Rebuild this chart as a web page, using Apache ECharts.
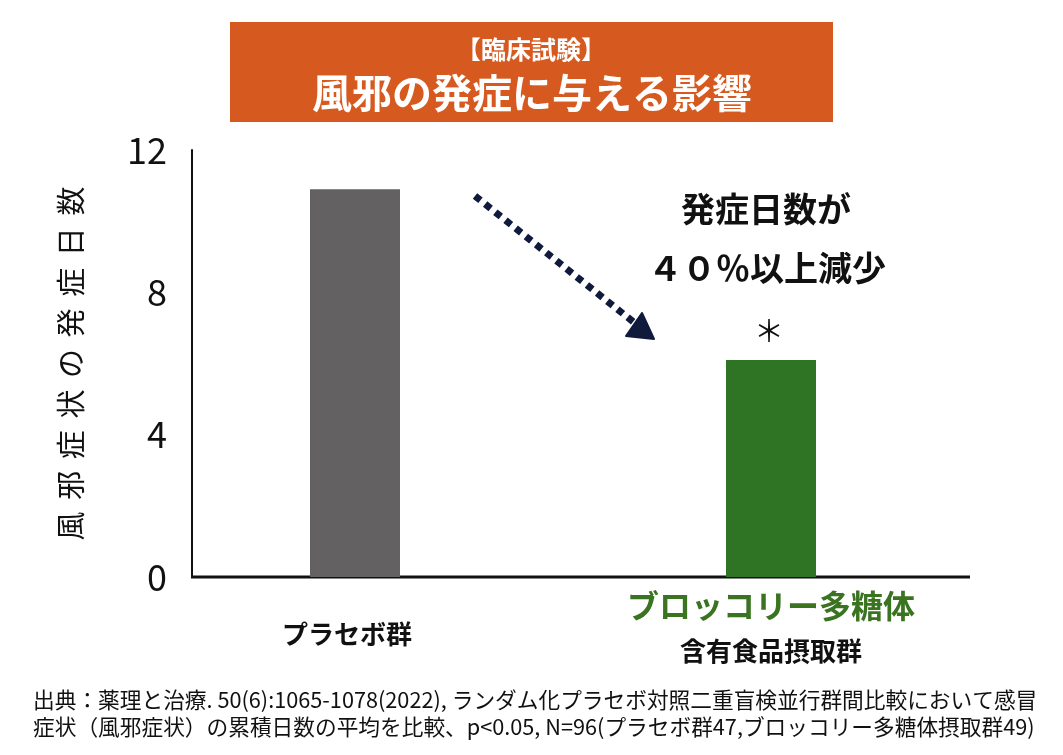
<!DOCTYPE html>
<html>
<head>
<meta charset="utf-8">
<script src="https://cdn.jsdelivr.net/npm/echarts@6/dist/echarts.min.js"></script>
<style>
  html,body{margin:0;padding:0;background:#fff;}
  #chart{width:1063px;height:755px;}
</style>
</head>
<body>
<div id="chart"></div>
<script>
// データ
var categories = ['プラセボ群', 'ブロッコリー多糖体含有食品摂取群'];
var days = [10.9, 6.1];
var barColors = ['#636162', '#2e7424'];
var yTicks = [0, 4, 8, 12];

var FONT = '"Noto Sans CJK JP", "Noto Sans", sans-serif';

var chart = echarts.init(document.getElementById('chart'));

var option = {
  backgroundColor: '#fff',
  animation: false,
  grid: {
    left: 147,
    right: 84,
    top: 150,
    bottom: 178
  },
  xAxis: {
    type: 'category',
    data: categories,
    axisLine: { show: false },
    axisTick: { show: false },
    axisLabel: {
      margin: 6,
      interval: 0,
      formatter: function (v, i) {
        if (i === 0) return '{p|' + v + '}';
        return '{g|ブロッコリー多糖体}\n{b|含有食品摂取群}';
      },
      rich: {
        p: { fontFamily: FONT, fontSize: 26, fontWeight: 'bold', color: '#111', lineHeight: 102, padding: [0, 16, 0, 0] },
        g: { fontFamily: FONT, fontSize: 32, fontWeight: 'bold', color: '#3a7420', lineHeight: 46 },
        b: { fontFamily: FONT, fontSize: 26, fontWeight: 'bold', color: '#111', lineHeight: 44 }
      }
    }
  },
  yAxis: {
    type: 'value',
    min: yTicks[0],
    max: yTicks[yTicks.length - 1],
    interval: yTicks[1] - yTicks[0],
    offset: -45,
    name: '風\u2009\u2009邪\u2009\u2009症\u2009\u2009状\u2009\u2009の\u2009\u2009発\u2009\u2009症\u2009\u2009日\u2009\u2009数',
    nameLocation: 'middle',
    nameRotate: 90,
    nameGap: 107,
    nameTextStyle: { fontFamily: FONT, fontSize: 29, color: '#111' },
    axisLine: { show: true, lineStyle: { color: '#111', width: 2 } },
    axisTick: { show: false },
    splitLine: { show: false },
    axisLabel: { fontFamily: FONT, fontSize: 36, color: '#111', margin: 25 }
  },
  series: [
    {
      type: 'bar',
      barWidth: 90,
      data: days.map(function (v, i) {
        return { value: v, itemStyle: { color: barColors[i] } };
      })
    }
  ],
  graphic: [
    // タイトル枠
    { type: 'rect', shape: { x: 230, y: 22, width: 603, height: 100 }, style: { fill: '#d65a1f' } },
    { type: 'text', x: 531, y: 49, style: { text: '【臨床試験】', fill: '#fff', font: 'bold 25px ' + FONT, align: 'center', verticalAlign: 'middle' } },
    { type: 'text', x: 532, y: 93, style: { text: '風邪の発症に与える影響', fill: '#fff', font: 'bold 40px ' + FONT, align: 'center', verticalAlign: 'middle' } },
    // x軸の線
    { type: 'line', shape: { x1: 191, y1: 577, x2: 970, y2: 577 }, style: { stroke: '#111', lineWidth: 3 } },
    // 矢印
    { type: 'line', shape: { x1: 475, y1: 196, x2: 636, y2: 324 }, style: { stroke: '#101a3c', lineWidth: 7, lineDash: [7, 6] } },
    { type: 'polygon', shape: { points: [[642, 313], [626, 336], [654, 339]] }, style: { fill: '#101a3c', stroke: '#101a3c', lineWidth: 2, lineJoin: 'round' } },
    // 注釈
    { type: 'text', x: 766, y: 209, style: { text: '発症日数が', fill: '#111', font: 'bold 34px ' + FONT, align: 'center', verticalAlign: 'middle' } },
    { type: 'text', x: 767, y: 268, style: { text: '４０％以上減少', fill: '#111', font: 'bold 34px ' + FONT, align: 'center', verticalAlign: 'middle' } },
    { type: 'text', x: 769, y: 331, style: { text: '＊', fill: '#111', font: '30px ' + FONT, align: 'center', verticalAlign: 'middle' } },
    // 出典
    { type: 'text', x: 33, y: 700, style: { text: '出典：薬理と治療. 50(6):1065-1078(2022), ランダム化プラセボ対照二重盲検並行群間比較において感冒', fill: '#111', font: '21.7px ' + FONT, verticalAlign: 'middle' } },
    { type: 'text', x: 33, y: 727, style: { text: '症状（風邪症状）の累積日数の平均を比較、p<0.05, N=96(プラセボ群47,ブロッコリー多糖体摂取群49)', fill: '#111', font: '21.7px ' + FONT, verticalAlign: 'middle' } }
  ]
};

chart.setOption(option);
</script>
</body>
</html>
